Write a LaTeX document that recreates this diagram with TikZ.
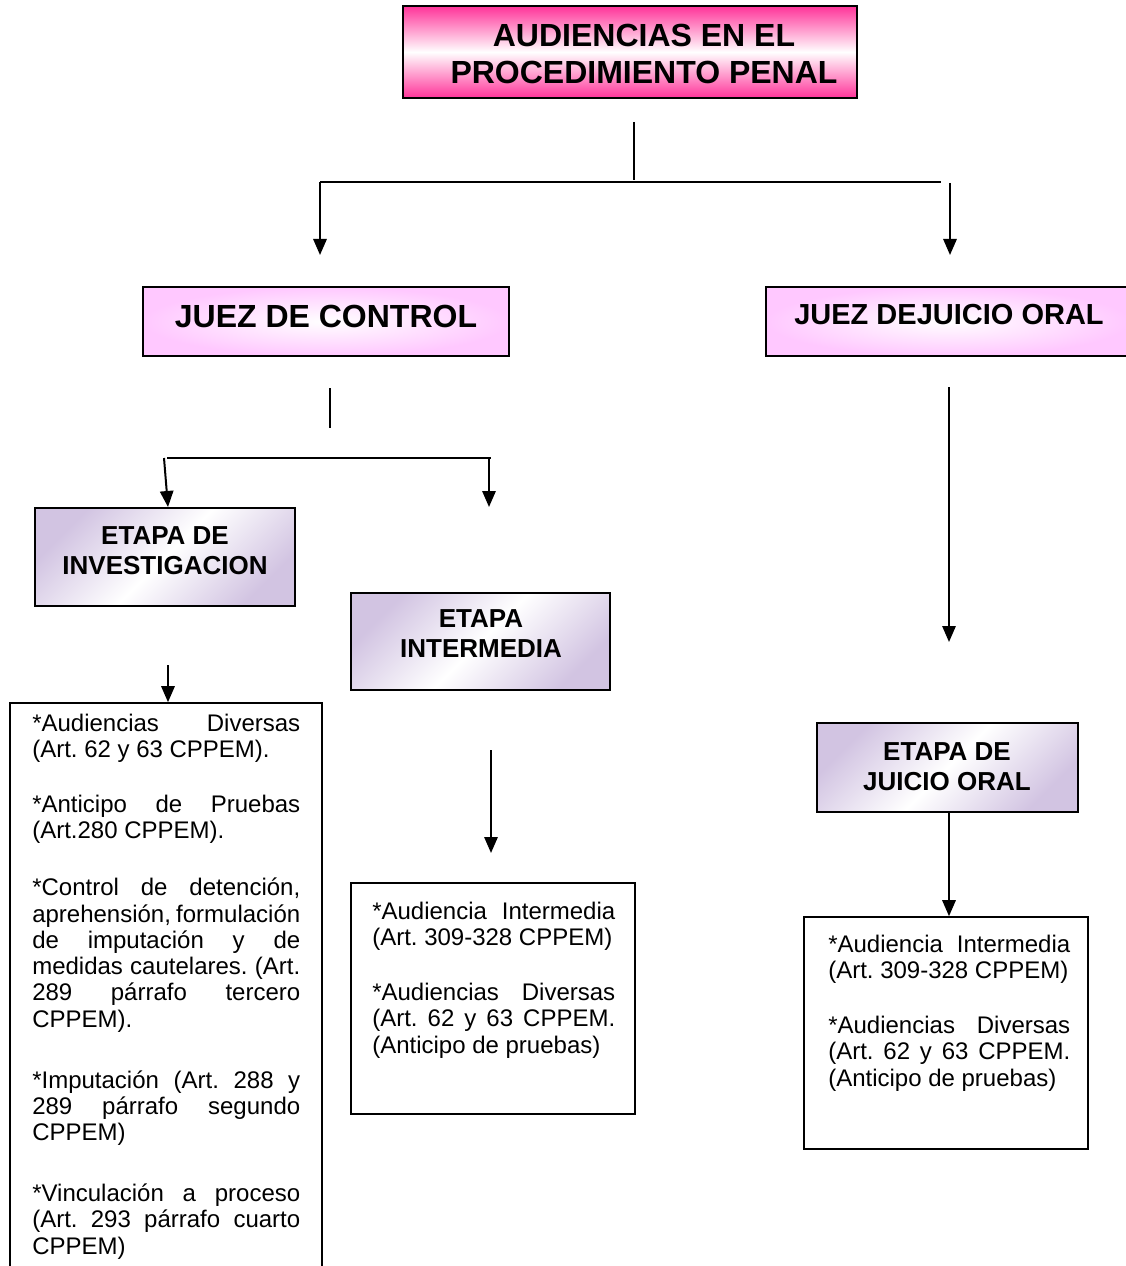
\documentclass[tikz,border=0pt]{standalone}
\usepackage{fontspec}
\setmainfont{Liberation Sans}
\usetikzlibrary{arrows.meta}
\frenchspacing
\definecolor{hotpink}{HTML}{FF3399}
\definecolor{lightpink}{HTML}{FFC8FF}
\definecolor{lav}{HTML}{D2C4E2}
\newcommand{\jl}[1]{\makebox[\hsize][s]{\spaceskip=0pt\xspaceskip=0pt #1}}
\begin{document}
\begin{tikzpicture}[x=0.75pt,y=-0.75pt,
  conn/.style={line width=1.5pt},
  arr/.style={line width=1.5pt,-{Triangle[width=10pt,length=12pt]}},
  boxbase/.style={draw,line width=1.5pt,inner sep=0pt,rectangle},
  titlebox/.style={boxbase,line width=2pt,top color=hotpink,bottom color=hotpink,middle color=white},
  judgebox/.style={boxbase,inner color=white,outer color=lightpink},
  stagebox/.style={boxbase,top color=lav,bottom color=lav,middle color=white,shading angle=45},
  textbox/.style={boxbase,line width=1.2pt,fill=white},
  boldtext/.style={inner sep=0pt,anchor=base,font=\bfseries},
  bodytext/.style={inner sep=0pt,anchor=base west,font=\fontsize{18}{19.7}\selectfont,
    execute at begin node={\spaceskip=0pt\xspaceskip=0pt}}
]
\useasboundingbox (0,0) rectangle (1126,1266);
\fill[white] (0,0) rectangle (1126,1266);

% boxes
\node[titlebox,minimum width=340.5pt,minimum height=69pt] (title) at (630,52) {};
\node[judgebox,minimum width=274.5pt,minimum height=51.75pt] (jc) at (326,321.5) {};
\node[judgebox,minimum width=273pt,minimum height=51.75pt] (jo) at (948,321.5) {};
\node[stagebox,minimum width=195pt,minimum height=73.5pt] (ei) at (165,557) {};
\node[stagebox,minimum width=194.25pt,minimum height=72.75pt] (em) at (480.5,641.5) {};
\node[stagebox,minimum width=195.75pt,minimum height=66.75pt] (ej) at (947.5,767.5) {};
\node[textbox,minimum width=234pt,minimum height=435pt] (lbox) at (166,993) {};
\node[textbox,minimum width=213pt,minimum height=173.25pt] (mbox) at (493,998.5) {};
\node[textbox,minimum width=213pt,minimum height=174pt] (rbox) at (946,1033) {};

% box titles (base anchor = baseline of the last line)
\node[boldtext,font=\bfseries\fontsize{24}{27.75}\selectfont,align=center] (titletext) at (644,84) {AUDIENCIAS EN EL\\PROCEDIMIENTO PENAL};
\node[boldtext,font=\bfseries\fontsize{24}{27}\selectfont] (jctext) at (326,327) {JUEZ DE CONTROL};
\node[boldtext,font=\bfseries\fontsize{21.75}{24}\selectfont] (jotext) at (949,324) {JUEZ DEJUICIO ORAL};
\node[boldtext,font=\bfseries\fontsize{19.5}{22.5}\selectfont,align=center] (eitext) at (165,574) {ETAPA DE\\INVESTIGACION};
\node[boldtext,font=\bfseries\fontsize{19.5}{22.5}\selectfont,align=center] (emtext) at (481,657) {ETAPA\\INTERMEDIA};
\node[boldtext,font=\bfseries\fontsize{19.5}{22.5}\selectfont,align=center] (ejtext) at (947,790) {ETAPA DE\\JUICIO ORAL};

% body texts
\node[bodytext,text width=201pt] (ltext) at (32,731.5) {%
\jl{*Audiencias Diversas}\\
(Art. 62 y 63 CPPEM).\\[21.5pt]
\jl{*Anticipo de Pruebas}\\
(Art.280 CPPEM).\\[23pt]
\jl{*Control de detención,}\\
\jl{aprehensión, formulación}\\
\jl{de imputación y de}\\
\jl{medidas cautelares. (Art.}\\
\jl{289 párrafo tercero}\\
CPPEM).\\[26pt]
\jl{*Imputación (Art. 288 y}\\
\jl{289 párrafo segundo}\\
CPPEM)\\[26pt]
\jl{*Vinculación a proceso}\\
\jl{(Art. 293 párrafo cuarto}\\
CPPEM)};

\node[bodytext,text width=182.25pt] (mtext) at (372,919.5) {%
\jl{*Audiencia Intermedia}\\
(Art. 309-328 CPPEM)\\[21.5pt]
\jl{*Audiencias Diversas}\\
\jl{(Art. 62 y 63 CPPEM.}\\
(Anticipo de pruebas)};

\node[bodytext,text width=181.5pt] (rtext) at (828,952.5) {%
\jl{*Audiencia Intermedia}\\
(Art. 309-328 CPPEM)\\[21.5pt]
\jl{*Audiencias Diversas}\\
\jl{(Art. 62 y 63 CPPEM.}\\
(Anticipo de pruebas)};

% connector points
\coordinate (t1) at (634,122);
\coordinate (t2) at (634,180);
\coordinate (h1) at (320,182);
\coordinate (h2) at (941,182);
\coordinate (a1) at (320,255);
\coordinate (a2s) at (950,183);
\coordinate (a2) at (950,255);
\coordinate (c1) at (330,388);
\coordinate (c2) at (330,428);
\coordinate (h3) at (167,458);
\coordinate (h4) at (491,458);
\coordinate (b1s) at (164,458);
\coordinate (b1) at (168,507);
\coordinate (b2s) at (489,458);
\coordinate (b2) at (489,507);
\coordinate (d1s) at (168,665);
\coordinate (e1s) at (491,750);
\coordinate (e1) at (491,853);
\coordinate (f1s) at (949,387);
\coordinate (f1) at (949,642);
\coordinate (g1s) at (949,813);
\coordinate (g1) at (949,917);

\draw[conn] (t1) -- (t2);
\draw[conn] (h1) -- (h2);
\draw[arr] (h1) -- (a1);
\draw[arr] (a2s) -- (a2);
\draw[conn] (c1) -- (c2);
\draw[conn] (h3) -- (h4);
\draw[arr] (b1s) -- (b1);
\draw[arr] (b2s) -- (b2);
\draw[arr] (d1s) -- (d1s |- lbox.north);
\draw[arr] (e1s) -- (e1);
\draw[arr] (f1s) -- (f1);
\draw[arr] (g1s) -- (g1 |- rbox.north);
\end{tikzpicture}
\end{document}
